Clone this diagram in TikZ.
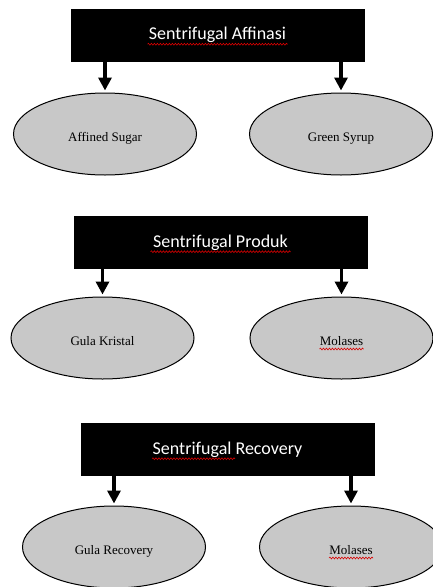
\documentclass[tikz,border=0pt]{standalone}
\usepackage{fontspec}
\setmainfont{Liberation Serif}
\newfontfamily\titlefont{Carlito}
\usetikzlibrary{shapes.geometric,arrows.meta,decorations.pathmorphing,calc}
\definecolor{prodgray}{RGB}{200,200,200}
\begin{document}
\begin{tikzpicture}[x=1pt,y=-1pt,
  titlebox/.style={draw=black, fill=black, text=white, minimum width=293pt,
    minimum height=52pt, inner sep=0pt, font=\titlefont\fontsize{18}{20}\selectfont},
  product/.style={ellipse, draw=black, line width=1pt, fill=prodgray,
    minimum width=183pt, minimum height=82pt, inner sep=0pt,
    text height=14pt, text depth=0pt,
    font=\fontsize{13}{15}\selectfont},
  flow/.style={line width=3.5pt, -{Triangle[width=13pt,length=13pt]}, shorten >=2pt},
  spell/.style={draw=red!85!black, line width=0.6pt, decorate,
    decoration={snake, amplitude=0.9pt, segment length=3pt}}
]
\useasboundingbox (0,0) rectangle (433,587);
\clip (0,0) rectangle (433,587);

% stage 1
\node[titlebox] (b1) at (217.5,35) {Sentrifugal Affinasi};
\node[product] (e1) at (105,134) {Affined Sugar};
\node[product] (e2) at (341,134) {Green Syrup};
\draw[flow] (e1.north |- b1.south) -- (e1.north);
\draw[flow] (e2.north |- b1.south) -- (e2.north);
\draw[spell] ($(b1.base)+(-70,4.5)$) -- ($(b1.base)+(70,4.5)$);

% stage 2
\node[titlebox] (b2) at (220.5,242.5) {Sentrifugal Produk};
\node[product] (e3) at (102.5,338) {Gula Kristal};
\node[product] (e4) at (341.5,338) {Molases};
\draw[flow] (e3.north |- b2.south) -- (e3.north);
\draw[flow] (e4.north |- b2.south) -- (e4.north);
\draw[spell] ($(b2.base)+(-70,4.5)$) -- ($(b2.base)+(70,4.5)$);
\draw[spell] ($(e4.base)+(-22,4)$) -- ($(e4.base)+(22,4)$);

% stage 3
\node[titlebox] (b3) at (227.5,449.5) {Sentrifugal Recovery};
\node[product] (e5) at (114,547) {Gula Recovery};
\node[product] (e6) at (351,547) {Molases};
\draw[flow] (e5.north |- b3.south) -- (e5.north);
\draw[flow] (e6.north |- b3.south) -- (e6.north);
\draw[spell] ($(b3.base)+(-75.5,4.5)$) -- ($(b3.base)+(7.5,4.5)$);
\draw[spell] ($(e6.base)+(-22,4)$) -- ($(e6.base)+(22,4)$);
\end{tikzpicture}
\end{document}
